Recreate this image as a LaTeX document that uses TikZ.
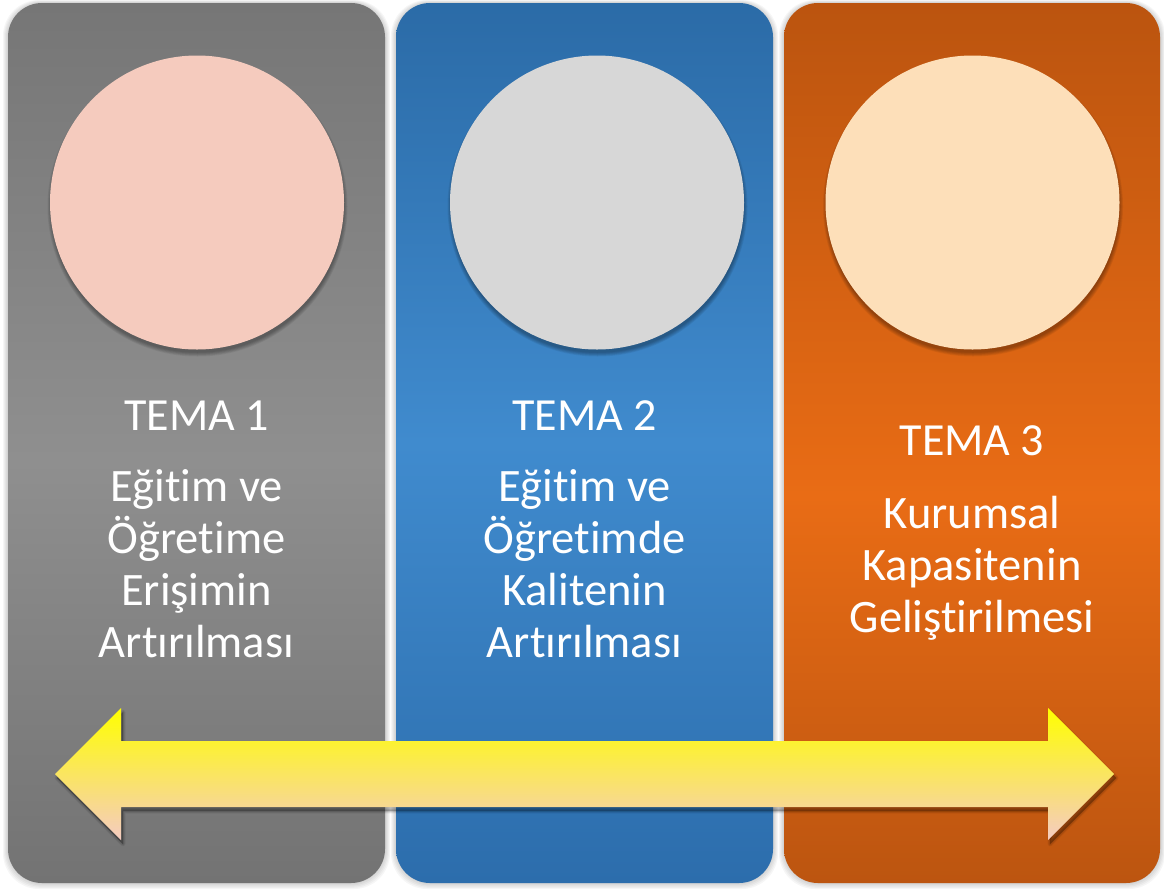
\documentclass[tikz,border=0pt]{standalone}
\usepackage{fontspec}
\setmainfont{Carlito}[Ligatures={NoCommon,NoRare}, RawFeature={-liga;-clig;-dlig;-calt}]
\definecolor{grayA}{HTML}{767676}
\definecolor{grayB}{HTML}{8F8F8F}
\definecolor{grayC}{HTML}{737373}
\definecolor{blueA}{HTML}{2B6BA7}
\definecolor{blueB}{HTML}{408BCE}
\definecolor{blueC}{HTML}{2C6DAC}
\definecolor{orA}{HTML}{BB540F}
\definecolor{orB}{HTML}{E96C15}
\definecolor{orC}{HTML}{BC5510}
\definecolor{discA}{HTML}{F5CBBE}
\definecolor{discB}{HTML}{D7D7D7}
\definecolor{discC}{HTML}{FDDFB9}
\definecolor{arrTop}{HTML}{FFFF00}
\definecolor{arrBot}{HTML}{F5CBC2}
% TikZ maps a path onto the 25bp..75bp band of a shading
\pgfdeclareverticalshading{grayshade}{100bp}{color(0bp)=(grayC); color(25bp)=(grayC); color(49bp)=(grayB); color(75bp)=(grayA); color(100bp)=(grayA)}
\pgfdeclareverticalshading{blueshade}{100bp}{color(0bp)=(blueC); color(25bp)=(blueC); color(50bp)=(blueB); color(75bp)=(blueA); color(100bp)=(blueA)}
\pgfdeclareverticalshading{orshade}{100bp}{color(0bp)=(orC); color(25bp)=(orC); color(47bp)=(orB); color(75bp)=(orA); color(100bp)=(orA)}
\tikzset{
  panel/.style={rounded corners=34pt, minimum width=377pt, minimum height=880pt, inner sep=0pt, draw=none},
  disc/.style={circle, minimum size=294pt, inner sep=0pt, draw=none},
  title/.style={text=white, font=\fontsize{46}{52}\selectfont, anchor=base, inner sep=0pt},
  body/.style={text=white, font=\fontsize{46.5}{52}\selectfont, align=center, anchor=base, inner sep=0pt},
  arrowshape/.style={insert path={(55,774) -- (121,708) -- (121,741) -- (1048,741) -- (1048,708) -- (1114,774) -- (1048,840) -- (1048,807) -- (121,807) -- (121,840) -- cycle}},
}
\begin{document}
\begin{tikzpicture}[x=1pt,y=-1pt]
\useasboundingbox (0,0) rectangle (1164,892);
\fill[white] (0,0) rectangle (1164,892);
% panel halos
\foreach \cx/\w in {196.5/377, 584.5/377, 972/376}{
  \foreach \k in {1,...,5}{
    \fill[black, opacity=0.035, rounded corners=36pt]
      (\cx-\w/2-\k, 3-\k*0.6) rectangle (\cx+\w/2+\k, 883+\k*1.2);
  }
}
% panels
\node[panel, shading=grayshade] (p1) at (196.5,443) {};
\node[panel, shading=blueshade, minimum width=377pt] (p2) at (584.5,443) {};
\node[panel, shading=orshade, minimum width=376pt] (p3) at (972,443) {};
% disc shadows
\foreach \cx in {197, 597, 972.5}{
  \foreach \k in {1,...,6}{
    \fill[black, opacity=0.06] (\cx+0.5,202.5+4) circle (145.5+\k*0.75);
  }
}
% discs
\node[disc, fill=discA] (c1) at (197,202.5) {};
\node[disc, fill=discB] (c2) at (597,202.5) {};
\node[disc, fill=discC] (c3) at (972.5,202.5) {};
% texts (body nodes: base = baseline of last line)
\node[title] (t1) at (196.5,430) {TEMA 1};
\node[body] (b1) at (196.5,657) {Eğitim ve\\Öğretime\\Erişimin\\Artırılması};
\node[title] (t2) at (584.5,430) {TEMA 2};
\node[body] (b2) at (584.5,657) {Eğitim ve\\Öğretimde\\Kalitenin\\Artırılması};
\node[title] (t3) at (972,455) {TEMA 3};
\node[body] (b3) at (972,632) {Kurumsal\\Kapasitenin\\Geliştirilmesi};
% arrow shadow
\foreach \k in {1,...,5}{
  \path[fill=black, opacity=0.06, draw=black, draw opacity=0.04, line width=\k pt, line join=round, shift={(2,4)}, arrowshape];
}
% arrow
\path[top color=arrTop, bottom color=arrBot, arrowshape];
\end{tikzpicture}
\end{document}
